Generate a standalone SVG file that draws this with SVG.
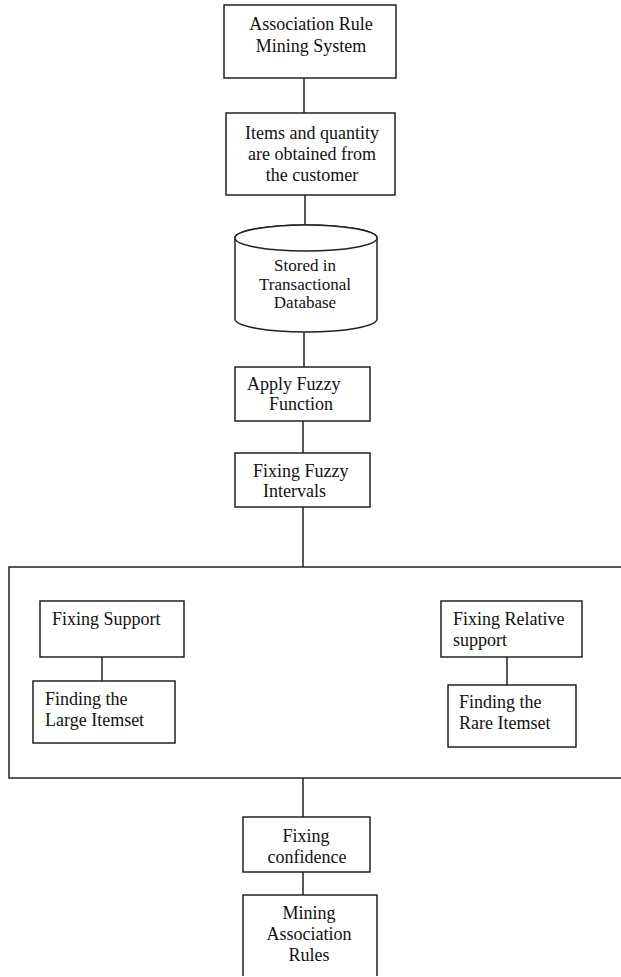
<svg xmlns="http://www.w3.org/2000/svg" width="621" height="977" viewBox="0 0 621 977">
<style>
.b{fill:#fff;stroke:#222;stroke-width:1.5}
.c{fill:none;stroke:#222;stroke-width:1.5}
text{font-family:"Liberation Serif","Times New Roman",serif;font-size:18px;fill:#111}
.m{text-anchor:middle}
.s{font-size:17px}
</style>
<rect width="621" height="977" fill="#fff"/>
<g id="group">
<rect class="c" x="9" y="567" width="620" height="211"/>
</g>
<g id="connectors">
<line class="c" x1="304" y1="78" x2="304" y2="113"/>
<line class="c" x1="305" y1="195" x2="305" y2="225"/>
<line class="c" x1="304" y1="332" x2="304" y2="367"/>
<line class="c" x1="303" y1="421" x2="303" y2="453"/>
<line class="c" x1="303" y1="507" x2="303" y2="567"/>
<line class="c" x1="102" y1="657" x2="102" y2="681"/>
<line class="c" x1="507" y1="657" x2="507" y2="685"/>
<line class="c" x1="303" y1="778" x2="303" y2="817"/>
<line class="c" x1="303" y1="872" x2="303" y2="895"/>
</g>
<g id="n1">
<rect class="b" x="224" y="5" width="172" height="73"/>
<text class="m" x="311" y="30">Association Rule</text>
<text class="m" x="311" y="52">Mining System</text>
</g>
<g id="n2">
<rect class="b" x="226" y="113" width="169" height="82"/>
<text class="m" x="312" y="139">Items and quantity</text>
<text class="m" x="312" y="160">are obtained from</text>
<text class="m" x="312" y="181">the customer</text>
</g>
<g id="n3">
<path class="b" d="M235 238 L235 319 A71 13 0 0 0 377 319 L377 238 A71 13 0 0 0 235 238 Z"/>
<ellipse class="b" cx="306" cy="238" rx="71" ry="13"/>
<text class="m s" x="305" y="271">Stored in</text>
<text class="m s" x="305" y="290">Transactional</text>
<text class="m s" x="305" y="308">Database</text>
</g>
<g id="n4">
<rect class="b" x="235" y="367" width="135" height="54"/>
<text x="247" y="390">Apply Fuzzy</text>
<text x="269" y="410">Function</text>
</g>
<g id="n5">
<rect class="b" x="235" y="453" width="135" height="54"/>
<text x="253" y="477">Fixing Fuzzy</text>
<text x="263" y="497">Intervals</text>
</g>
<g id="n6">
<rect class="b" x="40" y="601" width="144" height="56"/>
<text x="52" y="625">Fixing Support</text>
</g>
<g id="n7">
<rect class="b" x="33" y="681" width="142" height="62"/>
<text x="45" y="705">Finding the</text>
<text x="45" y="726">Large Itemset</text>
</g>
<g id="n8">
<rect class="b" x="441" y="601" width="141" height="56"/>
<text x="453" y="625">Fixing Relative</text>
<text x="453" y="646">support</text>
</g>
<g id="n9">
<rect class="b" x="448" y="685" width="128" height="62"/>
<text x="459" y="708">Finding the</text>
<text x="459" y="729">Rare Itemset</text>
</g>
<g id="n10">
<rect class="b" x="243" y="817" width="127" height="55"/>
<text class="m" x="306" y="842">Fixing</text>
<text class="m" x="307" y="863">confidence</text>
</g>
<g id="n11">
<path class="c" d="M243 976 L243 895 L377 895 L377 976"/>
<text class="m" x="309" y="919">Mining</text>
<text class="m" x="309" y="940">Association</text>
<text class="m" x="309" y="961">Rules</text>
</g>
</svg>
